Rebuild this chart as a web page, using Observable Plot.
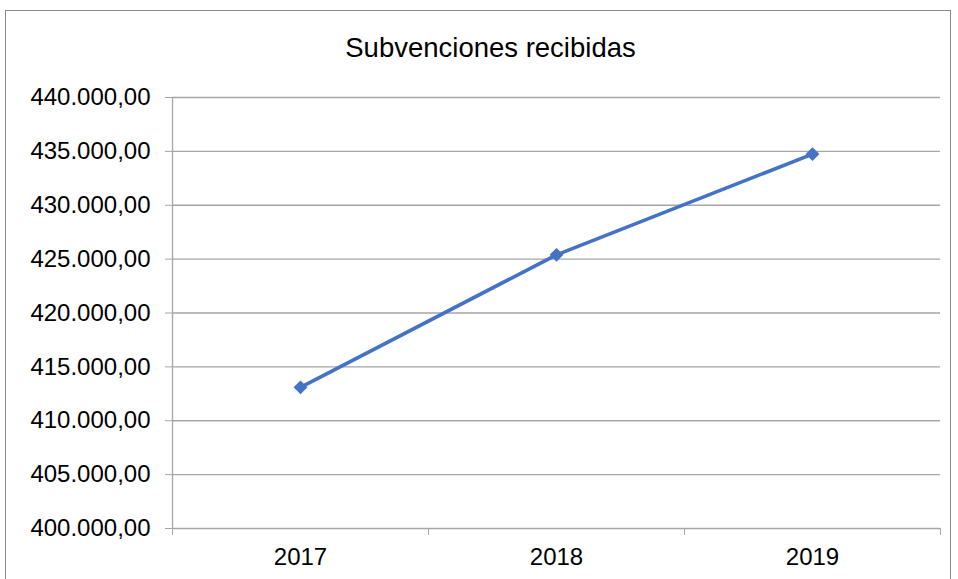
<!DOCTYPE html>
<html><head><meta charset="utf-8">
<script src="https://cdn.jsdelivr.net/npm/d3@7"></script>
<script src="https://cdn.jsdelivr.net/npm/@observablehq/plot@0.6"></script>
<style>
body{margin:0;background:#fff;}
#wrap{position:relative;width:958px;height:579px;overflow:hidden;}
#border{position:absolute;left:5px;top:10px;width:946px;height:640px;border:1.5px solid #8c8c8c;box-sizing:border-box;}
#chart{position:absolute;left:0;top:0;}
</style></head>
<body><div id="wrap"><div id="border"></div><div id="chart"></div></div>
<script>
const title = "Subvenciones recibidas";
const years = [2017, 2018, 2019];
const values = [413100, 425400, 434750];
const yTicks = [400000, 405000, 410000, 415000, 420000, 425000, 430000, 435000, 440000];

const data = years.map((y, i) => ({year: y, value: values[i]}));
const bounds = [years[0] - 0.5, ...years.map(y => y + 0.5)];
const loc = d3.formatLocale({decimal: ",", thousands: ".", grouping: [3], currency: ["", "€"]});
const fmt = loc.format(",.2f");
const font = "Liberation Sans, Arial, sans-serif";
const grid = "#a6a6a6";

const chart = Plot.plot({
  width: 958, height: 579,
  marginLeft: 172, marginRight: 18, marginTop: 97, marginBottom: 51,
  style: {fontFamily: font, background: "transparent", color: "#000"},
  x: {type: "linear", domain: [bounds[0], bounds[bounds.length - 1]]},
  y: {domain: [400000, 440000]},
  marks: [
    Plot.gridY(yTicks, {stroke: grid, strokeOpacity: 1, strokeWidth: 1.3}),
    Plot.ruleX([bounds[0]], {stroke: grid, strokeWidth: 1.3}),
    Plot.axisY(yTicks, {tickSize: 7, stroke: grid, tickPadding: 15, tickFormat: fmt, fontSize: 24, fill: "#000", label: null}),
    Plot.axisX(bounds, {tickSize: 7, stroke: grid, tickFormat: () => "", label: null}),
    Plot.axisX(years, {tickSize: 0, tickPadding: 19, tickFormat: d => String(d), fontSize: 24, fill: "#000", label: null}),
    Plot.line(data, {x: "year", y: "value", stroke: "#4472C4", strokeWidth: 3.6}),
    Plot.dot(data, {x: "year", y: "value", symbol: "square", rotate: 45, fill: "#4472C4", r: 5.5}),
    Plot.text([title], {frameAnchor: "top", lineAnchor: "middle", dy: -49, dx: -66, fontSize: 27.5, fill: "#000", text: d => d})
  ]
});
document.getElementById("chart").appendChild(chart);
</script>
</body></html>
